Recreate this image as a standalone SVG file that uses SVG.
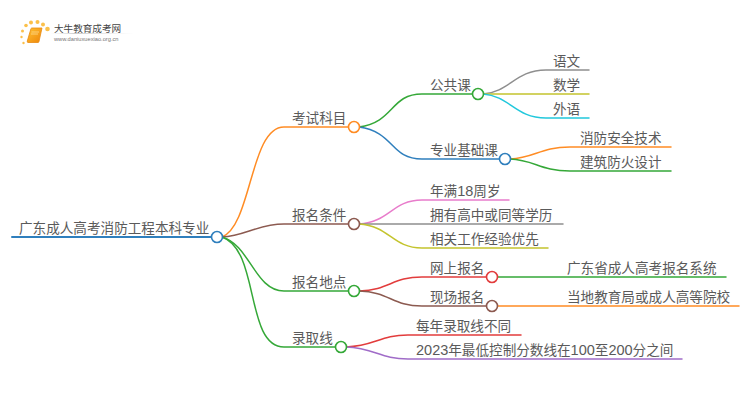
<svg xmlns="http://www.w3.org/2000/svg" width="750" height="410" viewBox="0 0 750 410">
<style>
text{font-family:"Liberation Sans","Noto Sans CJK SC",sans-serif;font-size:13.6px;fill:#5a5a5a}
.d{font-size:14.500px}
.c path{fill:none;stroke-width:1.500;stroke-linecap:round}
.n{fill:#fff;stroke-width:1.600}
.s{fill:#fbc04a}
.or{stroke:#ff8c24}.gr{stroke:#35a838}.bl{stroke:#2f7fbd}.br{stroke:#8c5a50}.gy{stroke:#8f8f8f}.ol{stroke:#c4c42e}.cy{stroke:#22c8dc}.pk{stroke:#e87ccb}.rd{stroke:#e23c3c}.pu{stroke:#a06cc8}
</style>
<defs>
<linearGradient id="b" x1="0" y1="0" x2="1" y2="1"><stop offset="0" stop-color="#ffc233"/><stop offset="1" stop-color="#ee8508"/></linearGradient>
<linearGradient id="u" x1="0" x2="1"><stop offset="0" stop-color="#ddd" stop-opacity="0"/><stop offset=".3" stop-color="#ccc"/><stop offset="1" stop-color="#ddd" stop-opacity="0"/></linearGradient>
</defs>
<g id="logo">
<circle class="s" cx="22.500" cy="31" r="1.500"/><circle class="s" cx="26" cy="25.500" r="1.800"/><circle class="s" cx="31" cy="22.500" r="2"/><circle class="s" cx="37.500" cy="22" r="2"/><circle class="s" cx="43" cy="24.500" r="2"/><circle class="s" cx="47.500" cy="29" r="2.300"/><circle class="s" cx="21.500" cy="37" r="1.200"/><circle class="s" cx="23.500" cy="43" r="1.200"/>
<path d="M31 28.500Q31.500 28 32 28H42L39 41.500Q38.800 42.500 38 42.500H28Q27 42.500 27.300 41z" fill="url(#b)" stroke="#e98a10" stroke-width=".8"/>
<path d="M31.500 32H39M31 34H38" stroke="#fde3a0" stroke-width=".7" fill="none"/>
<text x="54" y="32" style="font-size:9.600px;fill:#444">大牛教育成考网</text>
<rect x="50" y="33" width="84" height="1" fill="url(#u)"/>
<text x="54" y="41" style="font-size:5.700px;fill:#777">www.daniuxuexiao.org.cn</text>
</g>
<g id="connectors" class="c">
<path class="bl" d="M12 237H212" style="stroke-width:2"/>
<path class="or" d="M222 237C252 225 250 127 284 127H349"/>
<path class="br" d="M222 237C245 236 258 224 284 224H349"/>
<path class="gr" d="M222 237C250 245 255 291 284 291H349"/>
<path class="gr" d="M222 237C260 250 245 347 284 347H336"/>
<path class="gr" d="M359 127C395 122 390 94 422 94H473"/>
<path class="bl" d="M359 127C395 132 390 159 422 159H500"/>
<path class="gy" d="M483 94C510 92 515 70 546 70H589"/>
<path class="ol" d="M483 94H589"/>
<path class="cy" d="M483 94C510 96 515 118 546 118H589"/>
<path class="or" d="M510 159C535 158 540 147 570 147H671"/>
<path class="gr" d="M510 159C535 160 540 171 570 171H671"/>
<path class="pk" d="M359 224C390 222 392 200 422 200H509"/>
<path class="gy" d="M359 224H563"/>
<path class="ol" d="M359 224C390 226 392 248 422 248H548"/>
<path class="rd" d="M359 291C390 290 392 277 422 277H487"/>
<path class="br" d="M359 291C390 292 392 306 422 306H487"/>
<path class="gr" d="M497 277H726"/>
<path class="or" d="M497 306H739"/>
<path class="rd" d="M346 347C375 346 380 335 408 335H521"/>
<path class="pu" d="M346 347C375 348 380 359 408 359H682"/>
</g>
<g id="root"><text x="19" y="233">广东成人高考消防工程本科专业</text><circle class="n bl" cx="217" cy="237" r="5.500"/></g>
<g id="n1"><text x="292" y="123">考试科目</text><circle class="n or" cx="354" cy="127" r="5.500"/></g>
<g id="n2"><text x="430" y="90">公共课</text><circle class="n gr" cx="478" cy="94" r="5.500"/></g>
<g id="n3"><text x="430" y="155">专业基础课</text><circle class="n bl" cx="505" cy="159" r="5.500"/></g>
<g id="n4"><text x="553" y="66">语文</text></g>
<g id="n5"><text x="553" y="90">数学</text></g>
<g id="n6"><text x="553" y="114">外语</text></g>
<g id="n7"><text x="580" y="143">消防安全技术</text></g>
<g id="n8"><text x="580" y="167">建筑防火设计</text></g>
<g id="n9"><text x="292" y="220">报名条件</text><circle class="n br" cx="354" cy="224" r="5.500"/></g>
<g id="n10"><text x="430" y="196">年满<tspan class="d">18</tspan>周岁</text></g>
<g id="n11"><text x="430" y="220">拥有高中或同等学历</text></g>
<g id="n12"><text x="430" y="244">相关工作经验优先</text></g>
<g id="n13"><text x="292" y="287">报名地点</text><circle class="n gr" cx="354" cy="291" r="5.500"/></g>
<g id="n14"><text x="430" y="273">网上报名</text><circle class="n rd" cx="492" cy="277" r="5.500"/></g>
<g id="n15"><text x="430" y="302">现场报名</text><circle class="n br" cx="492" cy="306" r="5.500"/></g>
<g id="n16"><text x="567" y="273">广东省成人高考报名系统</text></g>
<g id="n17"><text x="567" y="302">当地教育局或成人高等院校</text></g>
<g id="n18"><text x="292" y="343">录取线</text><circle class="n gr" cx="341" cy="347" r="5.500"/></g>
<g id="n19"><text x="416" y="331">每年录取线不同</text></g>
<g id="n20"><text x="416" y="355"><tspan class="d">2023</tspan>年最低控制分数线在<tspan class="d">100</tspan>至<tspan class="d">200</tspan>分之间</text></g>
</svg>
